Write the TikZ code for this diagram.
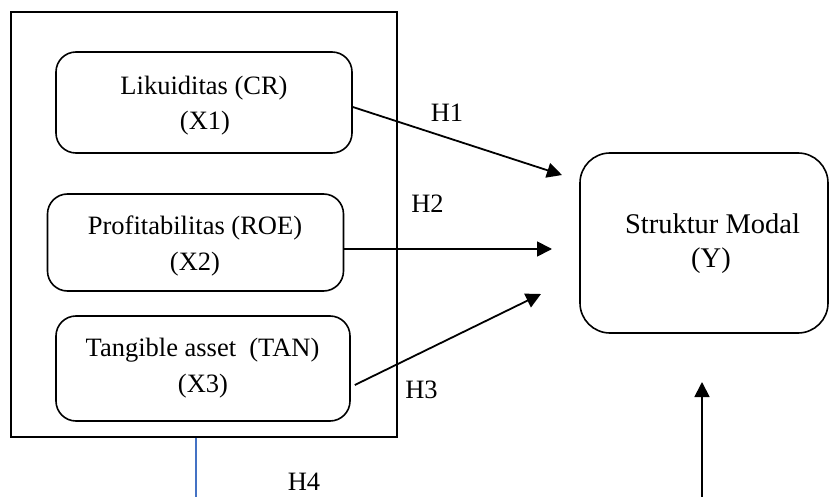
\documentclass[tikz,border=0pt]{standalone}
\usepackage{fontspec}
\setmainfont{Liberation Serif}
\usetikzlibrary{arrows.meta}
\definecolor{wordblue}{RGB}{68,114,196}
\tikzset{
  varbox/.style={draw=black, line width=1.6pt, rounded corners=20pt, inner sep=0pt},
  ybox/.style={draw=black, line width=1.6pt, rounded corners=30pt, inner sep=0pt},
  outerbox/.style={draw=black, line width=1.6pt, inner sep=0pt},
  lbl/.style={anchor=base, inner sep=0pt, font=\fontsize{26.5}{35}\selectfont},
  biglbl/.style={anchor=base, inner sep=0pt, font=\fontsize{28.5}{35}\selectfont},
  hyp/.style={draw=black, line width=1.8pt, -{Triangle[length=15pt,width=15pt]}},
}
\begin{document}
\begin{tikzpicture}[x=1pt,y=-1pt]
\useasboundingbox (0,0) rectangle (830,497);
% outer frame
\node[outerbox, minimum width=386pt, minimum height=425pt] (outer) at (204,224.5) {};
% variable boxes
\node[varbox, minimum width=296pt, minimum height=101pt] (x1) at (204,102.5) {};
\node[varbox, minimum width=296pt, minimum height=97pt] (x2) at (195.5,242.5) {};
\node[varbox, minimum width=294pt, minimum height=105pt] (x3) at (203,368.5) {};
\node[ybox, minimum width=248pt, minimum height=180pt] (y) at (704,243) {};
% texts
\node[lbl] (x1a) at (204,95) {Likuiditas (CR)};
\node[lbl] (x1b) at (205,129.5) {(X1)};
\node[lbl] (x2a) at (195,235) {Profitabilitas (ROE)};
\node[lbl] (x2b) at (195,270) {(X2)};
\node[lbl] (x3a) at (202.5,356) {Tangible asset\ \ (TAN)};
\node[lbl] (x3b) at (203,392) {(X3)};
\node[biglbl] (ya) at (712.5,234) {Struktur Modal};
\node[biglbl] (yb) at (711,267.5) {(Y)};
% hypothesis labels
\node[lbl] (h1) at (447,122) {H1};
\node[lbl] (h2) at (427.5,213) {H2};
\node[lbl] (h3) at (421.5,398) {H3};
\node[lbl] (h4) at (304,490) {H4};
% arrow end points
\coordinate (t1) at (562,175);
\coordinate (t2) at (552,249);
\coordinate (t3) at (541,294);
\coordinate (t4) at (702,382);
\coordinate (b4) at (702,497);
\coordinate (b5) at (196,497);
% arrows
\draw[hyp] ([yshift=-4.5pt]x1.east) -- (t1);
\draw[hyp] ([yshift=-6.5pt]x2.east) -- (t2);
\draw[hyp] ([yshift=-16.5pt,xshift=4pt]x3.east) -- (t3);
\draw[hyp] (b4) -- (t4);
\draw[wordblue, line width=1.5pt] (outer.south -| b5) -- (b5);
\end{tikzpicture}
\end{document}
